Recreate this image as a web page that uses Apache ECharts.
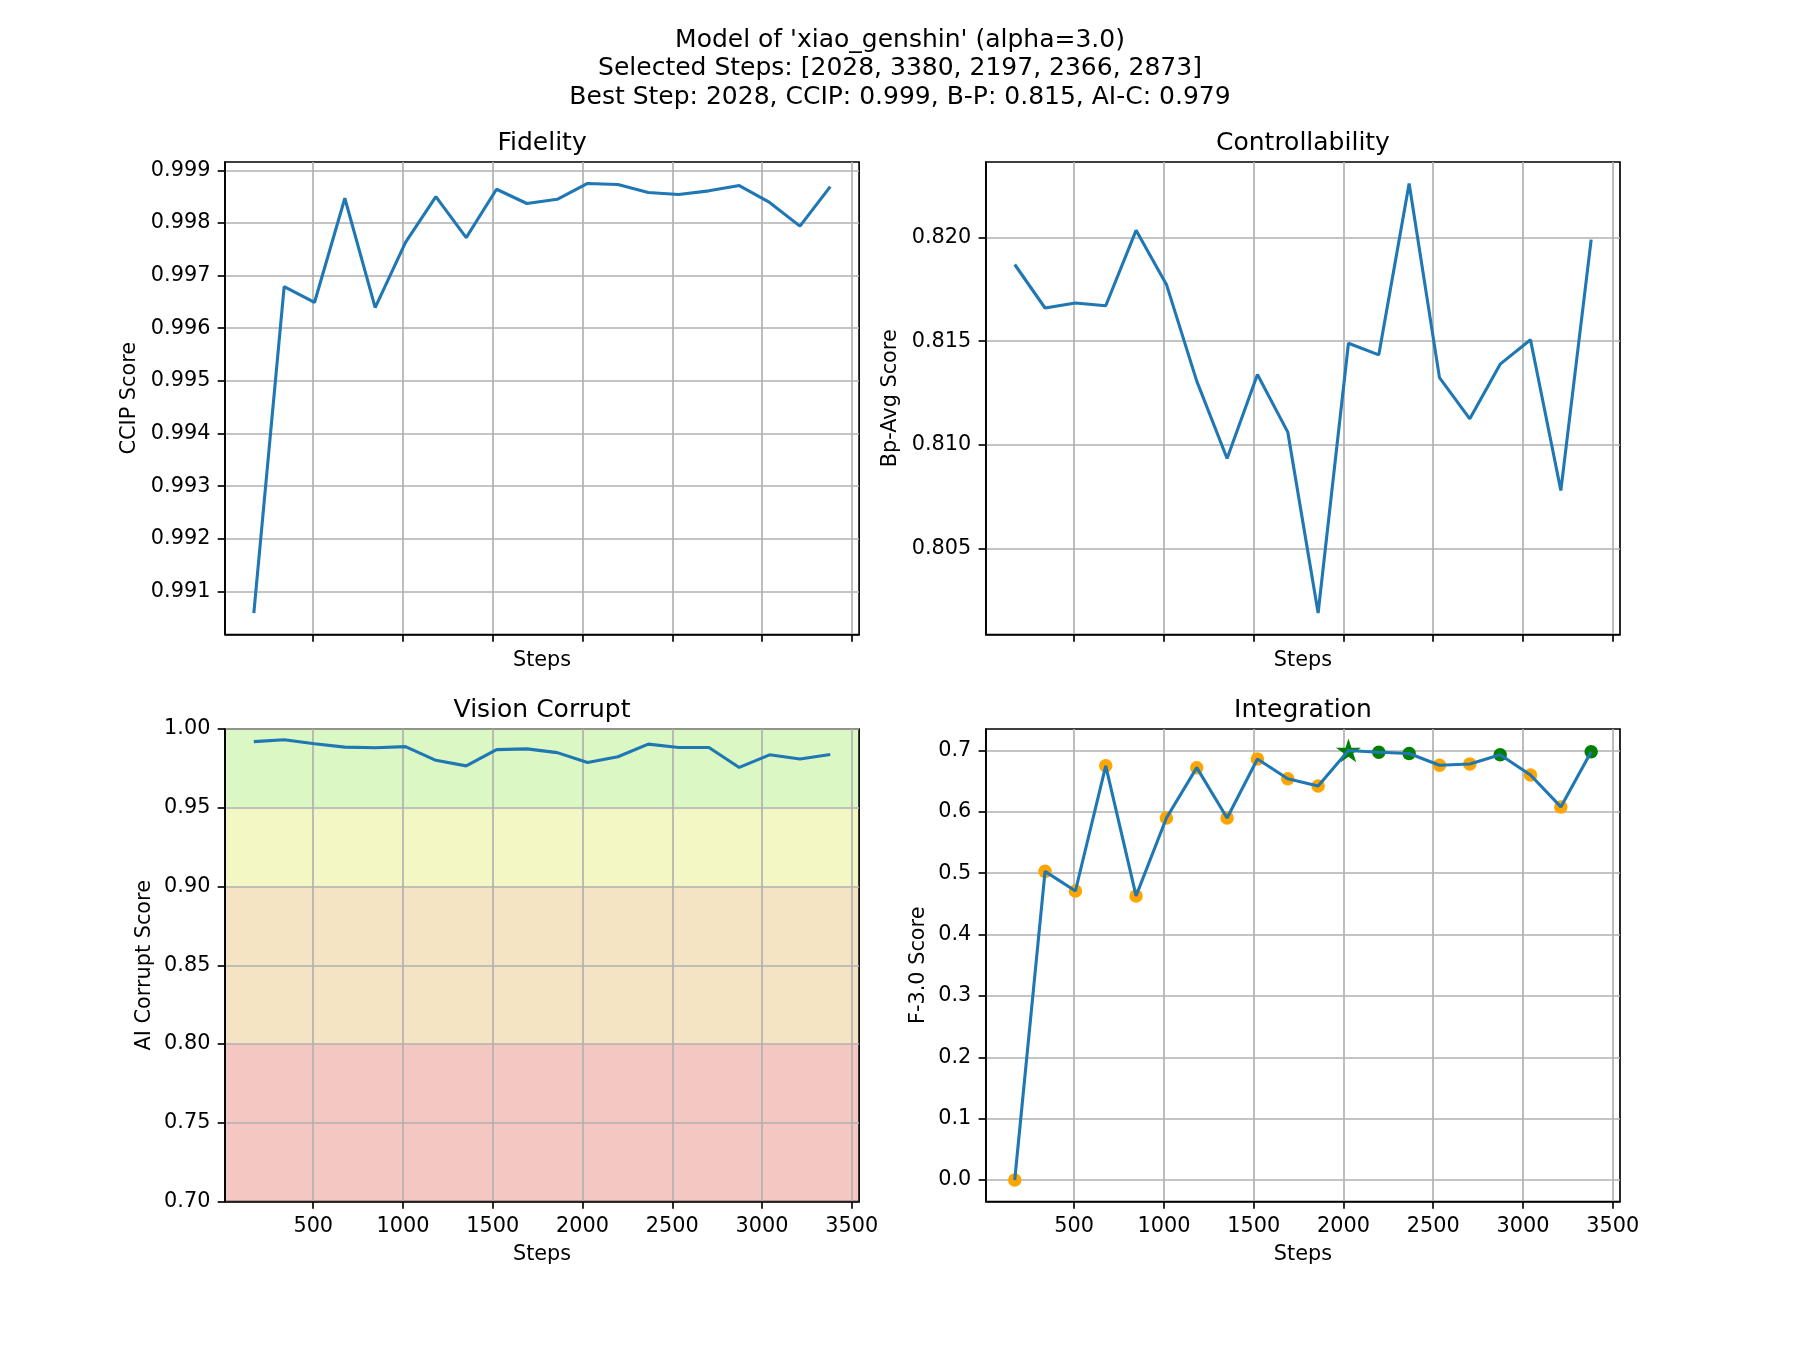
<!DOCTYPE html>
<html><head><meta charset="utf-8">
<script src="https://cdn.jsdelivr.net/npm/echarts@6/dist/echarts.min.js"></script>
<style>html,body{margin:0;padding:0;background:#fff}#c{width:1800px;height:1350px}</style>
</head><body><div id="c"></div>
<script>
// ---------------- data ----------------
const steps = [169, 338, 507, 676, 845, 1014, 1183, 1352, 1521, 1690, 1859, 2028, 2197, 2366, 2535, 2704, 2873, 3042, 3211, 3380];
const ccipScore = [0.99059, 0.99679, 0.99649, 0.99847, 0.99639, 0.99763, 0.99850, 0.99772, 0.99864, 0.99837, 0.99845, 0.99875, 0.99873, 0.99858, 0.99854, 0.99861, 0.99871, 0.99839, 0.99794, 0.99869];
const bpAvgScore = [0.81870, 0.81660, 0.81684, 0.81671, 0.82035, 0.81774, 0.81307, 0.80934, 0.81339, 0.81061, 0.80188, 0.81490, 0.81434, 0.82261, 0.81324, 0.81125, 0.81389, 0.81507, 0.80779, 0.81990];
const aiCorruptScore = [0.9920, 0.9932, 0.9906, 0.9885, 0.9881, 0.9888, 0.9801, 0.9766, 0.9869, 0.9874, 0.9850, 0.9787, 0.9824, 0.9904, 0.9883, 0.9883, 0.9756, 0.9836, 0.9810, 0.9838];
const fScore = [0.000, 0.503, 0.471, 0.675, 0.463, 0.590, 0.672, 0.590, 0.686, 0.654, 0.642, 0.700, 0.697, 0.695, 0.676, 0.678, 0.693, 0.660, 0.608, 0.698];
const selectedSteps = [2028, 3380, 2197, 2366, 2873];
const bestStep = 2028;

const xTicks = [500, 1000, 1500, 2000, 2500, 3000, 3500];
const ccipTicks = [0.991, 0.992, 0.993, 0.994, 0.995, 0.996, 0.997, 0.998, 0.999];
const bpTicks = [0.805, 0.810, 0.815, 0.820];
const aicTicks = [0.70, 0.75, 0.80, 0.85, 0.90, 0.95, 1.00];
const fTicks = [0.0, 0.1, 0.2, 0.3, 0.4, 0.5, 0.6, 0.7];
const bandLow = [0.70, 0.80, 0.90, 0.95];
const bandHigh = [0.80, 0.90, 0.95, 1.00];

const suptitle = "Model of 'xiao_genshin' (alpha=3.0)\nSelected Steps: [2028, 3380, 2197, 2366, 2873]\nBest Step: 2028, CCIP: 0.999, B-P: 0.815, AI-C: 0.979";
const panelTitles = ['Fidelity', 'Controllability', 'Vision Corrupt', 'Integration'];
const yNames = ['CCIP Score', 'Bp-Avg Score', 'AI Corrupt Score', 'F-3.0 Score'];

// ---------------- styling / layout ----------------
const FONT = 'DejaVu Sans';
const FS = 20.8;
const BLUE = '#1f77b4';
const bandColors = ['#f5c7c2', '#f5e4c4', '#f3f7c4', '#daf7c4'];
const W = 634.1, H = 472.5;
const lefts = [225, 985.9, 225, 985.9];
const tops = [162, 162, 729, 729];

function pad(arr) {
  const mn = Math.min(...arr), mx = Math.max(...arr), r = mx - mn;
  return [mn - 0.05 * r, mx + 0.05 * r];
}
const xr = pad(steps);
const yRanges = [pad(ccipScore), pad(bpAvgScore), [0.70, 1.00], pad(fScore)];
const yTickSets = [ccipTicks, bpTicks, aicTicks, fTicks];
const yDigits = [3, 3, 2, 1];
const yNameGaps = [95, 95, 80.4, 67.6];

const axisLineStyle = { color: '#000', width: 1.67 };
const gridLineStyle = { color: '#b0b0b0', width: 1.67 };
const labelStyle = { color: '#000', fontSize: FS, fontFamily: FONT };

const grids = [], xAxes = [], yAxes = [];
for (let i = 0; i < 4; i++) {
  grids.push({ left: lefts[i], top: tops[i], width: W, height: H, containLabel: false, outerBoundsMode: 'none',
    show: true, borderColor: '#000', borderWidth: 1.67, backgroundColor: 'transparent' });
  xAxes.push({
    gridIndex: i, type: 'value', min: xr[0], max: xr[1],
    axisLine: { show: true, onZero: false, lineStyle: axisLineStyle },
    axisTick: { show: true, inside: false, length: 7.3, customValues: xTicks, lineStyle: axisLineStyle },
    axisLabel: { show: i >= 2, customValues: xTicks, margin: 14.6, ...labelStyle, formatter: v => String(Math.round(v)) },
    splitLine: { show: true, lineStyle: gridLineStyle },
    name: 'Steps', nameLocation: 'middle', nameGap: i >= 2 ? 53 : 26,
    nameTextStyle: { ...labelStyle, verticalAlign: 'middle', align: 'center' }
  });
  const d = yDigits[i];
  yAxes.push({
    gridIndex: i, type: 'value', min: yRanges[i][0], max: yRanges[i][1],
    axisLine: { show: true, onZero: false, lineStyle: axisLineStyle },
    axisTick: { show: true, inside: false, length: 7.3, customValues: yTickSets[i], lineStyle: axisLineStyle },
    axisLabel: { show: true, customValues: yTickSets[i], margin: 14.6, ...labelStyle, formatter: v => v.toFixed(d) },
    splitLine: { show: true, lineStyle: gridLineStyle },
    name: yNames[i], nameLocation: 'middle', nameGap: yNameGaps[i], nameRotate: 90,
    nameTextStyle: { ...labelStyle, verticalAlign: 'middle', align: 'center' }
  });
}

function pairs(ys) { return steps.map((s, i) => [s, ys[i]]); }
function lineSeries(idx, ys) {
  return { type: 'line', xAxisIndex: idx, yAxisIndex: idx, data: pairs(ys), symbol: 'none', showSymbol: false,
    lineStyle: { color: BLUE, width: 3.1 }, itemStyle: { color: BLUE }, z: 3, silent: true, animation: false };
}

const starPath = 'path://M0,-1L0.2245,-0.309L0.951,-0.309L0.3633,0.118L0.5878,0.809L0,0.382L-0.5878,0.809L-0.3633,0.118L-0.951,-0.309L-0.2245,-0.309Z';

const orangePts = [], greenPts = [], bestPts = [];
steps.forEach((s, i) => {
  if (s === bestStep) bestPts.push([s, fScore[i]]);
  else if (selectedSteps.includes(s)) greenPts.push([s, fScore[i]]);
  else orangePts.push([s, fScore[i]]);
});

const series = [
  {
    type: 'custom', xAxisIndex: 2, yAxisIndex: 2, z: -1, silent: true, animation: false,
    data: bandLow.map((lo, i) => [lo, bandHigh[i]]),
    encode: { y: [0, 1] },
    renderItem: function (params, api) {
      const p0 = api.coord([xr[0], api.value(0)]);
      const p1 = api.coord([xr[1], api.value(1)]);
      return { type: 'rect', shape: { x: p0[0], y: p1[1], width: p1[0] - p0[0], height: p0[1] - p1[1] },
        style: { fill: bandColors[params.dataIndex] } };
    }
  },
  lineSeries(0, ccipScore),
  lineSeries(1, bpAvgScore),
  lineSeries(2, aiCorruptScore),
  { type: 'scatter', xAxisIndex: 3, yAxisIndex: 3, data: orangePts, symbol: 'circle', symbolSize: 13.5,
    itemStyle: { color: '#FFA500', opacity: 1 }, z: 2, silent: true, animation: false },
  { type: 'scatter', xAxisIndex: 3, yAxisIndex: 3, data: greenPts, symbol: 'circle', symbolSize: 13.5,
    itemStyle: { color: '#008000', opacity: 1 }, z: 2, silent: true, animation: false },
  { type: 'scatter', xAxisIndex: 3, yAxisIndex: 3, data: bestPts, symbol: starPath, symbolKeepAspect: true, symbolSize: 25,
    itemStyle: { color: '#008000', opacity: 1 }, z: 2, silent: true, animation: false },
  lineSeries(3, fScore)
];

const graphics = [{
  type: 'text', x: 900, y: 68.5, silent: true,
  style: { text: suptitle, fill: '#000', fontSize: 25, fontFamily: FONT, align: 'center', verticalAlign: 'middle', lineHeight: 28.5 }
}];
for (let i = 0; i < 4; i++) {
  graphics.push({
    type: 'text', x: lefts[i] + W / 2, y: tops[i] - 18.2, silent: true,
    style: { text: panelTitles[i], fill: '#000', fontSize: 25, fontFamily: FONT, align: 'center', verticalAlign: 'middle' }
  });
}

const chart = echarts.init(document.getElementById('c'), null, { renderer: 'canvas', width: 1800, height: 1350 });
chart.setOption({
  animation: false,
  backgroundColor: '#ffffff',
  textStyle: { fontFamily: FONT },
  grid: grids,
  xAxis: xAxes,
  yAxis: yAxes,
  series: series,
  graphic: graphics
});
</script>
</body></html>
